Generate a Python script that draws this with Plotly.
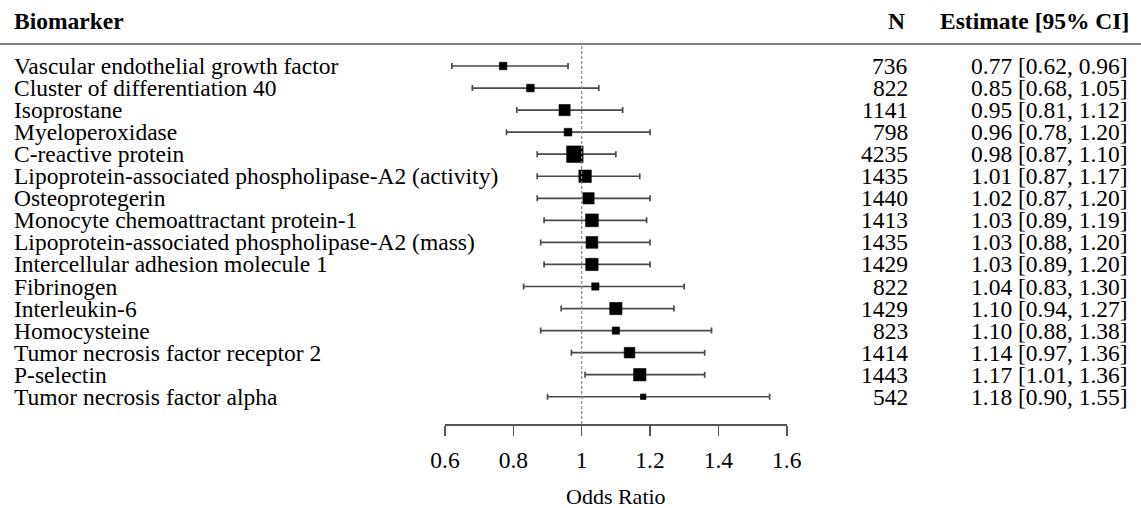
import math
import plotly.graph_objects as go

biomarkers = [
    "Vascular endothelial growth factor",
    "Cluster of differentiation 40",
    "Isoprostane",
    "Myeloperoxidase",
    "C-reactive protein",
    "Lipoprotein-associated phospholipase-A2 (activity)",
    "Osteoprotegerin",
    "Monocyte chemoattractant protein-1",
    "Lipoprotein-associated phospholipase-A2 (mass)",
    "Intercellular adhesion molecule 1",
    "Fibrinogen",
    "Interleukin-6",
    "Homocysteine",
    "Tumor necrosis factor receptor 2",
    "P-selectin",
    "Tumor necrosis factor alpha",
]
n_values = [736, 822, 1141, 798, 4235, 1435, 1440, 1413, 1435, 1429, 822, 1429, 823, 1414, 1443, 542]
estimates = [0.77, 0.85, 0.95, 0.96, 0.98, 1.01, 1.02, 1.03, 1.03, 1.03, 1.04, 1.10, 1.10, 1.14, 1.17, 1.18]
ci_low = [0.62, 0.68, 0.81, 0.78, 0.87, 0.87, 0.87, 0.89, 0.88, 0.89, 0.83, 0.94, 0.88, 0.97, 1.01, 0.90]
ci_high = [0.96, 1.05, 1.12, 1.20, 1.10, 1.17, 1.20, 1.19, 1.20, 1.20, 1.30, 1.27, 1.38, 1.36, 1.36, 1.55]
tick_values = [0.6, 0.8, 1.0, 1.2, 1.4, 1.6]
tick_labels = ["0.6", "0.8", "1", "1.2", "1.4", "1.6"]

FONT = "Liberation Serif"
W, H = 1141, 508
FS = 23.5

rows = list(range(len(biomarkers)))

# point size proportional to precision (1/SE derived from CI), metafor style
inv_se = [2 * 1.96 / (math.log(h) - math.log(l)) for l, h in zip(ci_low, ci_high)]
wmin, wmax = min(inv_se), max(inv_se)
sizes = [5.5 + (w - wmin) / (wmax - wmin) * 11 for w in inv_se]

fig = go.Figure()
fig.add_trace(go.Scatter(
    x=estimates, y=rows, mode="markers",
    marker=dict(symbol="square", size=sizes, color="black", opacity=1,
                line=dict(width=0.6, color="black")),
    error_x=dict(type="data", symmetric=False,
                 array=[h - e for h, e in zip(ci_high, estimates)],
                 arrayminus=[e - l for e, l in zip(estimates, ci_low)],
                 color="#4a4a4a", thickness=1.7, width=3),
    hoverinfo="skip", showlegend=False, cliponaxis=False,
))

axis_px_left, axis_px_right = 445, 786.7
top_px, bottom_px = 44, 424
row0_px, row_step = 66, 22.05

annotations = []
for i, (name, nv, e, l, h) in enumerate(zip(biomarkers, n_values, estimates, ci_low, ci_high)):
    annotations.append(dict(x=12 / W, y=i, xref="paper", yref="y", text=name,
                            xanchor="left", yanchor="middle", showarrow=False,
                            font=dict(family=FONT, size=FS, color="black")))
    annotations.append(dict(x=910 / W, y=i, xref="paper", yref="y", text=str(nv),
                            xanchor="right", yanchor="middle", showarrow=False,
                            font=dict(family=FONT, size=FS, color="black")))
    annotations.append(dict(x=1130 / W, y=i, xref="paper", yref="y",
                            text=f"{e:.2f} [{l:.2f}, {h:.2f}]",
                            xanchor="right", yanchor="middle", showarrow=False,
                            font=dict(family=FONT, size=FS, color="black")))

hdr_y = (H - 21) / H
annotations += [
    dict(x=12 / W, y=hdr_y, xref="paper", yref="paper", text="<b>Biomarker</b>",
         xanchor="left", yanchor="middle", showarrow=False,
         font=dict(family=FONT, size=FS, color="black")),
    dict(x=896 / W, y=hdr_y, xref="paper", yref="paper", text="<b>N</b>",
         xanchor="center", yanchor="middle", showarrow=False,
         font=dict(family=FONT, size=FS, color="black")),
    dict(x=1131 / W, y=hdr_y, xref="paper", yref="paper", text="<b>Estimate [95% CI]</b>",
         xanchor="right", yanchor="middle", showarrow=False,
         font=dict(family=FONT, size=FS, color="black")),
    dict(x=(axis_px_left + axis_px_right) / 2 / W, y=(H - 496) / H, xref="paper", yref="paper",
         text="Odds Ratio", xanchor="center", yanchor="middle", showarrow=False,
         font=dict(family=FONT, size=22, color="black")),
]

shapes = [
    dict(type="line", xref="paper", yref="paper", x0=0, x1=1,
         y0=(H - top_px) / H, y1=(H - top_px) / H, line=dict(color="#808080", width=2)),
    dict(type="line", xref="x", yref="y domain", x0=1, x1=1, y0=0, y1=1,
         line=dict(color="#8a8a8a", width=1.2, dash="3px,2px")),
]

y_top = (top_px - row0_px) / row_step
y_bot = (bottom_px - row0_px) / row_step

fig.update_layout(
    width=W, height=H, autosize=False,
    margin=dict(l=0, r=0, t=0, b=0, pad=0, autoexpand=False),
    paper_bgcolor="white", plot_bgcolor="white",
    xaxis=dict(domain=[axis_px_left / W, axis_px_right / W], range=[0.6, 1.6],
               tickvals=tick_values, ticktext=tick_labels, automargin=False,
               showline=True, linecolor="#555555", linewidth=1.6,
               ticks="outside", ticklen=10, tickwidth=1.6, tickcolor="#555555",
               ticklabelstandoff=4,
               showgrid=False, zeroline=False,
               tickfont=dict(family=FONT, size=FS, color="black")),
    yaxis=dict(domain=[(H - bottom_px) / H, (H - top_px) / H], automargin=False,
               range=[y_bot, y_top], visible=False),
    annotations=annotations, shapes=shapes,
    font=dict(family=FONT),
)

fig.write_html(
    "out.html",
    config={"displayModeBar": False, "staticPlot": True},
    post_script="document.body.style.margin='0';document.body.style.overflow='hidden';",
)
